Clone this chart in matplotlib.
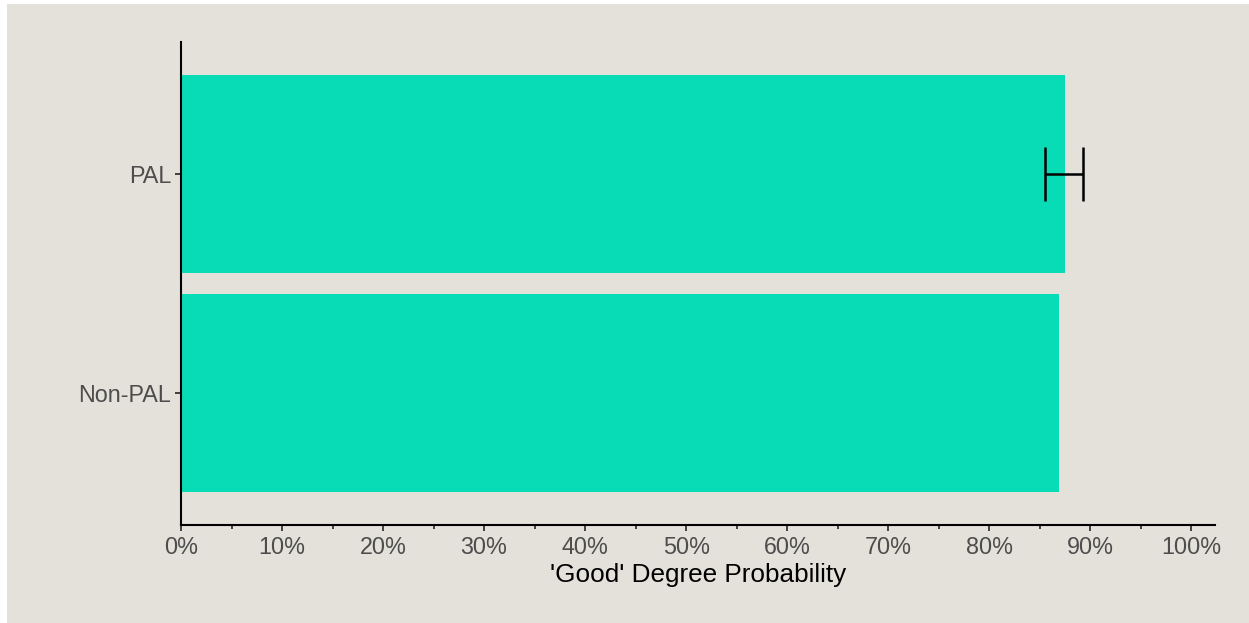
import matplotlib
matplotlib.use("Agg")
import matplotlib.pyplot as plt
from matplotlib.patches import Rectangle
from matplotlib.ticker import MultipleLocator, FuncFormatter

plt.rcParams['font.family'] = ['Liberation Sans', 'DejaVu Sans']

categories = ["Non-PAL", "PAL"]
values = [0.8686, 0.8755]
err_low = [None, 0.8557]
err_high = [None, 0.8925]

bg = "#e4e1da"
bar_color = "#07dcb6"

W, H = 1249, 623
fig = plt.figure(figsize=(W / 100, H / 100), dpi=100, facecolor="white")
fig.patches.append(Rectangle((7 / W, 0), 1 - 7 / W, 1 - 4 / H, transform=fig.transFigure,
                             facecolor=bg, edgecolor="none", zorder=-10))

ax = fig.add_axes([181 / W, (H - 525) / H, (1215 - 181) / W, (525 - 42) / H])
ax.set_facecolor(bg)
ax.patch.set_alpha(0)

ypos = list(range(len(categories)))
ax.barh(ypos, values, height=0.9, color=bar_color, zorder=2)
for i in ypos:
    if err_low[i] is not None:
        ax.errorbar(values[i], i, xerr=[[values[i] - err_low[i]], [err_high[i] - values[i]]],
                    fmt="none", ecolor="black", elinewidth=1.8, capsize=19.5, capthick=1.8, zorder=3)

ax.set_xlim(0, 1.0235)
ax.set_ylim(-0.6, 1.6)
ax.set_yticks(ypos)
ax.set_yticklabels(categories)
ax.xaxis.set_major_locator(MultipleLocator(0.1))
ax.xaxis.set_minor_locator(MultipleLocator(0.05))
ax.xaxis.set_major_formatter(FuncFormatter(lambda v, p: f"{v * 100:.0f}%"))

for s in ["top", "right"]:
    ax.spines[s].set_visible(False)
for s in ["left", "bottom"]:
    ax.spines[s].set_linewidth(1.5)
    ax.spines[s].set_color("black")

ax.tick_params(axis="both", which="major", length=4, width=1.3, color="#333333",
               labelsize=16.8, labelcolor="#4d4d4d", pad=4)
ax.tick_params(axis="y", which="major", pad=3)
ax.tick_params(axis="x", which="minor", length=3, width=1.3, color="#333333")
ax.set_xlabel("'Good' Degree Probability", fontsize=18.8, color="black", labelpad=3)

fig.savefig("out.png", dpi=100, facecolor="white")
